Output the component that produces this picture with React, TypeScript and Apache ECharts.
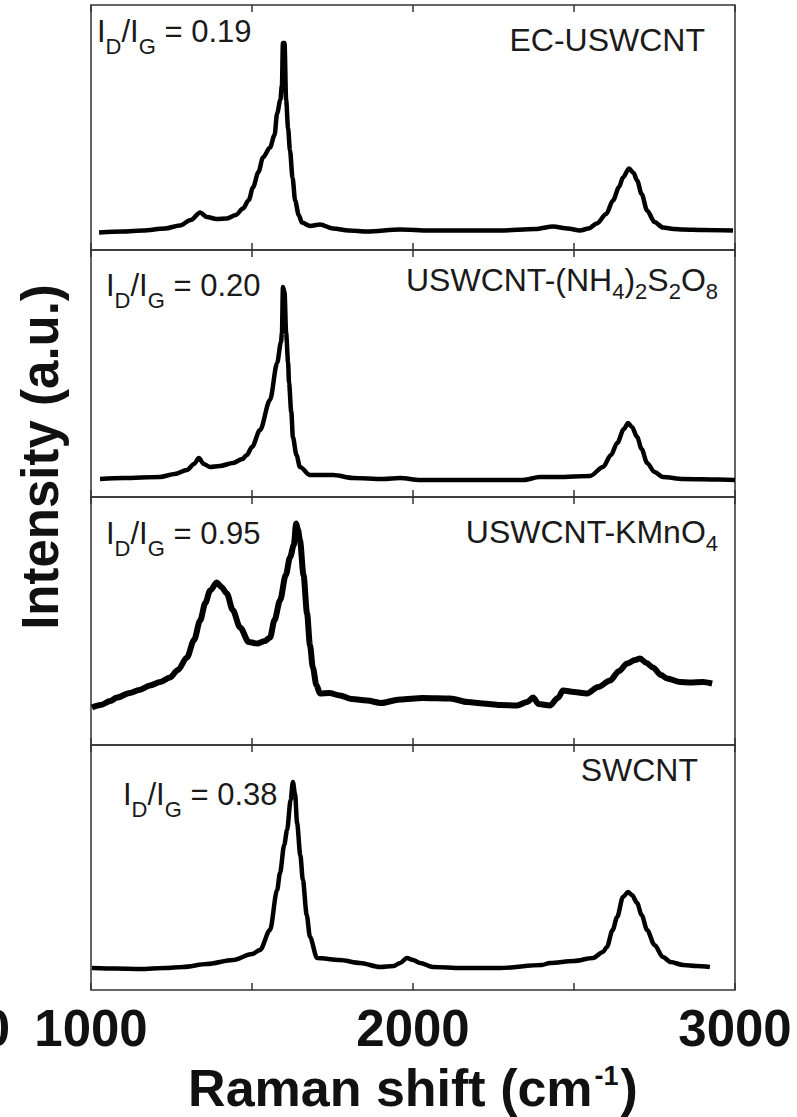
import React, { useEffect, useRef } from 'react';
import * as echarts from 'echarts';

// ---- Data (Raman shift in cm^-1, intensity in arbitrary units) ----
const shift1 = [1025, 1100, 1161, 1230, 1276, 1310, 1339, 1360, 1390, 1422, 1450, 1472, 1490, 1503, 1520, 1534, 1556, 1570, 1578, 1588, 1593, 1596, 1601, 1606, 1612, 1618, 1626, 1634, 1645, 1655, 1680, 1711, 1752, 1800, 1857, 1960, 2050, 2146, 2270, 2380, 2435, 2480, 2519, 2545, 2571, 2600, 2621, 2640, 2652, 2671, 2685, 2696, 2710, 2727, 2750, 2776, 2810, 2839, 2900, 2994];
const inten1 = [17.5, 18.5, 19.5, 21.5, 24.5, 30, 37.5, 33, 31, 31.5, 35, 41.5, 50, 62.5, 78, 92.5, 102.5, 115, 136.5, 150, 165, 207, 207, 150, 122, 99.5, 72, 49.5, 35, 27.5, 24, 25.5, 21.5, 19.5, 18.5, 20.5, 19.5, 19.5, 19.5, 21, 23.5, 21.5, 19.5, 21.5, 26.5, 36, 49.5, 63, 72.5, 81.5, 77, 69.5, 56, 39.5, 28, 22.5, 21, 20.5, 20, 19.5];

const shift2 = [1028, 1100, 1214, 1260, 1298, 1320, 1335, 1350, 1370, 1400, 1441, 1470, 1484, 1500, 1525, 1556, 1578, 1590, 1593, 1596, 1601, 1606, 1612, 1615, 1622, 1627, 1638, 1649, 1680, 1752, 1814, 1907, 1960, 2022, 2200, 2342, 2394, 2450, 2550, 2590, 2615, 2634, 2655, 2668, 2680, 2696, 2710, 2727, 2750, 2776, 2839, 2950, 3000];
const inten2 = [18, 19, 20, 23, 27, 33, 39, 33, 30, 31, 34, 38, 42, 50, 67, 97, 134, 155, 164, 210, 205, 164, 135, 114, 85, 60, 42, 30, 22, 22, 19, 18, 19, 17, 17, 17, 20, 20, 21, 30, 42, 54, 68, 74, 70, 60, 48, 34, 25, 20, 18, 17.5, 17];

const shift3 = [1003, 1030, 1060, 1081, 1120, 1150, 1183, 1215, 1245, 1270, 1298, 1320, 1339, 1355, 1370, 1391, 1405, 1422, 1440, 1463, 1490, 1516, 1540, 1556, 1570, 1587, 1605, 1618, 1630, 1637, 1643, 1649, 1660, 1671, 1680, 1689, 1700, 1711, 1740, 1773, 1810, 1857, 1900, 1960, 2030, 2115, 2170, 2217, 2270, 2323, 2355, 2373, 2390, 2425, 2450, 2466, 2500, 2540, 2575, 2612, 2640, 2665, 2690, 2705, 2725, 2745, 2770, 2789, 2830, 2860, 2900, 2929];
const inten3 = [37.5, 40, 44, 47.5, 52, 55, 59.5, 63, 67.5, 75, 87.5, 105, 124.5, 142, 154.5, 162.5, 158, 151.5, 135, 117.5, 103, 101.5, 104, 107.5, 125, 144.5, 170, 187.5, 200, 221.5, 215, 204.5, 170, 131.5, 100, 77.5, 60, 51.5, 52, 49.5, 46, 44.5, 42, 45.5, 47, 46.5, 43, 41.5, 40, 39.5, 43, 47.5, 41, 39.5, 47, 54.5, 53, 51.5, 58, 64.5, 74, 81.5, 85, 86.5, 82, 77.5, 70, 66.5, 63, 62.5, 63, 61.5];

const shift4 = [1003, 1080, 1152, 1230, 1286, 1360, 1441, 1500, 1525, 1556, 1578, 1587, 1600, 1609, 1620, 1627, 1634, 1640, 1650, 1658, 1670, 1680, 1702, 1773, 1835, 1898, 1940, 1960, 1981, 2000, 2022, 2062, 2150, 2270, 2400, 2425, 2500, 2559, 2590, 2602, 2620, 2634, 2652, 2668, 2680, 2696, 2710, 2727, 2750, 2776, 2800, 2839, 2880, 2922];
const inten4 = [22, 21.5, 21, 22, 23, 26, 30, 36, 40, 60, 100, 117, 145, 160, 190, 208, 195, 167, 135, 110, 75, 53, 32, 30, 27, 23, 24, 27, 32, 30, 27, 23, 22, 22, 25, 27, 29, 32, 38, 43, 60, 73, 93, 98, 95, 87, 75, 60, 45, 33, 28, 25, 24, 23];

const sampleNames = ['EC-USWCNT', 'USWCNT-(NH4)2S2O8', 'USWCNT-KMnO4', 'SWCNT'];
const ratios = ['0.19', '0.20', '0.95', '0.38'];
const tickLabels = ['1000', '2000', '3000'];
const xTitle = 'Raman shift (cm-1)';
const yTitle = 'Intensity (a.u.)';

const shifts = [shift1, shift2, shift3, shift4];
const intens = [inten1, inten2, inten3, inten4];

// rich-text forms of the sample names (subscripts)
const richNames = [
  '{n|EC-USWCNT}',
  '{n|USWCNT-(NH}{s|4}{n|)}{s|2}{n|S}{s|2}{n|O}{s|8}',
  '{n|USWCNT-KMnO}{s|4}',
  '{n|SWCNT}',
];

const FONT = '"Liberation Sans", Arial, Helvetica, sans-serif';

export default function App() {
  const ref = useRef<HTMLDivElement>(null);

  useEffect(() => {
    if (!ref.current) return;
    const chart = echarts.init(ref.current, null, { renderer: 'svg' });

    const grids = [
      { top: 5, height: 245 },
      { top: 250, height: 247 },
      { top: 497, height: 248 },
      { top: 745, height: 245 },
    ];

    const gridOpts = grids.map((g) => ({
      left: 91,
      width: 644,
      top: g.top,
      height: g.height,
      show: true,
      borderColor: '#333',
      borderWidth: 1.5,
      backgroundColor: 'transparent',
    }));

    const tickStyle = { inside: true, length: 7, lineStyle: { color: '#333', width: 1.5 } };

    const xAxes: any[] = [];
    grids.forEach((_, i) => {
      const isLast = i === grids.length - 1;
      xAxes.push({
        type: 'value',
        gridIndex: i,
        position: 'bottom',
        min: 1000,
        max: 3000,
        interval: 500,
        axisLine: { show: false },
        axisTick: tickStyle,
        splitLine: { show: false },
        axisLabel: isLast
          ? {
              show: true,
              margin: 13,
              fontSize: 51,
              fontWeight: 'bold',
              fontFamily: FONT,
              color: '#111',
              showMinLabel: true,
              showMaxLabel: true,
              formatter: (v: number) => (tickLabels.includes(String(v)) ? String(v) : ''),
            }
          : { show: false },
        name: isLast ? '{n|Raman shift (cm}{sup|-1}{n|)}' : '',
        nameLocation: 'middle',
        nameGap: 72,
        nameTextStyle: {
          rich: {
            n: { fontSize: 52, fontWeight: 'bold', fontFamily: FONT, color: '#111', lineHeight: 52, verticalAlign: 'top' },
            sup: { fontSize: 27, fontWeight: 'bold', fontFamily: FONT, color: '#111', lineHeight: 27, verticalAlign: 'top', padding: [0, 2, 0, 2] },
          },
        },
      });
      xAxes.push({
        type: 'value',
        gridIndex: i,
        position: 'top',
        min: 1000,
        max: 3000,
        interval: 500,
        axisLine: { show: false },
        axisTick: tickStyle,
        splitLine: { show: false },
        axisLabel: { show: false },
      });
    });

    const yAxes = grids.map((g, i) => ({
      type: 'value',
      gridIndex: i,
      min: 0,
      max: g.height,
      show: false,
    }));

    const series = shifts.map((xs, i) => ({
      type: 'line',
      name: sampleNames[i],
      xAxisIndex: i * 2,
      yAxisIndex: i,
      data: xs.map((x, k) => [x, intens[i][k]]),
      showSymbol: false,
      symbol: 'none',
      smooth: 0.3,
      smoothMonotone: 'x',
      lineStyle: { color: '#000', width: i === 2 ? 6 : 4.5 },
      silent: true,
      z: 3,
    }));

    // main text top-aligned; subscripts pushed down with top padding
    const ratioRich = {
      n: { fontSize: 31, lineHeight: 31, verticalAlign: 'top', fontFamily: FONT, fill: '#1a1a1a' },
      s: { fontSize: 22, verticalAlign: 'top', padding: [19, 0, 0, 0], fontFamily: FONT, fill: '#1a1a1a' },
    };
    const nameRich = {
      n: { fontSize: 32, lineHeight: 32, verticalAlign: 'top', fontFamily: FONT, fill: '#1a1a1a' },
      s: { fontSize: 22, verticalAlign: 'top', padding: [16.5, 0, 0, 0], fontFamily: FONT, fill: '#1a1a1a' },
    };

    const ratioPos = [
      [97, 16],
      [106, 270],
      [106, 518],
      [123, 779],
    ];
    const namePos = [
      [705, 24],
      [718, 264],
      [718, 516],
      [698, 754],
    ];

    const graphics: any[] = [];
    ratios.forEach((r, i) => {
      graphics.push({
        type: 'text',
        x: ratioPos[i][0],
        y: ratioPos[i][1],
        silent: true,
        style: {
          text: `{n|I}{s|D}{n|/I}{s|G}{n| = ${r}}`,
          rich: ratioRich,
          align: 'left',
          verticalAlign: 'top',
          fill: '#1a1a1a',
        },
      });
      graphics.push({
        type: 'text',
        x: namePos[i][0],
        y: namePos[i][1],
        silent: true,
        style: {
          text: richNames[i],
          rich: nameRich,
          align: 'right',
          verticalAlign: 'top',
          fill: '#1a1a1a',
        },
      });
    });
    // y-axis title (shared by the four stacked panels)
    graphics.push({
      type: 'text',
      x: 40,
      y: 457,
      rotation: Math.PI / 2,
      silent: true,
      style: {
        text: yTitle,
        font: `bold 51px ${FONT}`,
        fill: '#111',
        align: 'center',
        verticalAlign: 'middle',
      },
    });
    // cropped fragment of a neighbouring tick label at the far left edge
    graphics.push({
      type: 'text',
      x: 10,
      y: 1003,
      silent: true,
      style: {
        text: '0',
        font: `bold 51px ${FONT}`,
        fill: '#111',
        align: 'right',
        verticalAlign: 'top',
      },
    });

    chart.setOption({
      animation: false,
      backgroundColor: '#fff',
      grid: gridOpts,
      xAxis: xAxes,
      yAxis: yAxes,
      series,
      graphic: graphics,
    });

    return () => chart.dispose();
  }, []);

  return (
    <div
      ref={ref}
      aria-label={`${xTitle} vs ${yTitle}`}
      style={{ position: 'fixed', left: 0, top: 0, width: 797, height: 1117 }}
    />
  );
}
